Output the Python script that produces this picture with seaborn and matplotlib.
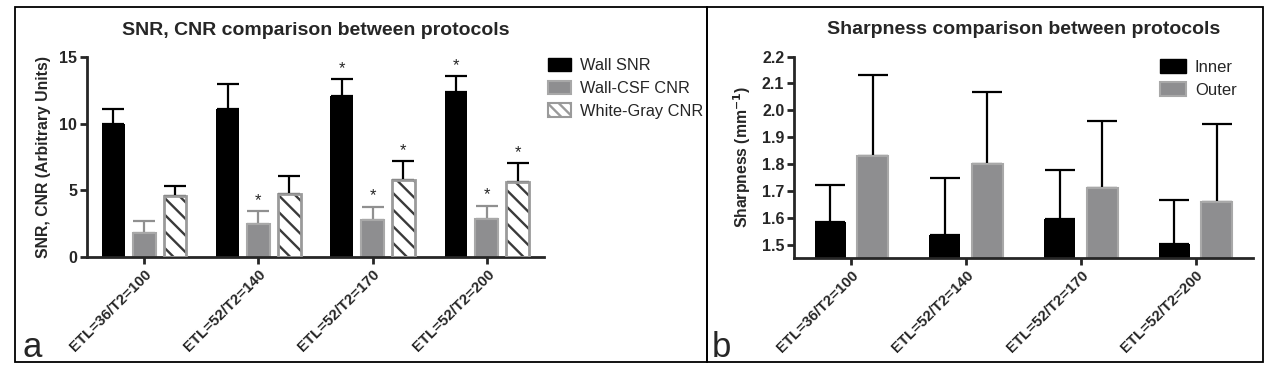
import numpy as np
import pandas as pd
import seaborn as sns
import matplotlib.pyplot as plt
from matplotlib.patches import Patch, Rectangle

# ---- data ----
protocols = ['ETL=36/T2=100', 'ETL=52/T2=140', 'ETL=52/T2=170', 'ETL=52/T2=200']

# panel a: SNR / CNR (mean and upward SD)
wall_snr = [10.0, 11.1, 12.05, 12.4]
wall_snr_sd = [1.1, 1.85, 1.3, 1.15]
wall_csf_cnr = [1.77, 2.45, 2.78, 2.86]
wall_csf_cnr_sd = [0.9, 1.0, 1.0, 1.0]
white_gray_cnr = [4.55, 4.75, 5.78, 5.65]
white_gray_cnr_sd = [0.8, 1.35, 1.4, 1.38]
sig_snr = [False, False, True, True]
sig_csf = [False, True, True, True]
sig_wg = [False, False, True, True]

# panel b: sharpness (mean and upward SD)
inner = [1.585, 1.537, 1.595, 1.503]
inner_sd = [0.137, 0.21, 0.182, 0.162]
outer = [1.831, 1.80, 1.712, 1.658]
outer_sd = [0.30, 0.268, 0.248, 0.291]

snr_series = ['Wall SNR', 'Wall-CSF CNR', 'White-Gray CNR']
sharp_series = ['Inner', 'Outer']

df_a = pd.DataFrame({
    'Protocol': protocols * 3,
    'Series': np.repeat(snr_series, 4),
    'Value': wall_snr + wall_csf_cnr + white_gray_cnr,
})
df_b = pd.DataFrame({
    'Protocol': protocols * 2,
    'Series': np.repeat(sharp_series, 4),
    'Value': inner + outer,
})

sns.set_style('ticks')
plt.rcParams['font.family'] = ['Liberation Sans', 'DejaVu Sans']
plt.rcParams['hatch.linewidth'] = 1.7

GRAY = '#8e8e90'
GRAY_EDGE = '#a8a8a8'

fig = plt.figure(figsize=(12.64, 3.88), dpi=100)
ax_a = fig.add_axes([0.0688, 0.3376, 0.3616, 0.5155])
ax_b = fig.add_axes([0.6282, 0.335, 0.3631, 0.519])

# panel frames
fig.add_artist(Rectangle((15 / 1264, 1 - 362 / 388), (707 - 15) / 1264, (362 - 7) / 388,
                         transform=fig.transFigure, fill=False, lw=1.3, ec='black'))
fig.add_artist(Rectangle((707 / 1264, 1 - 362 / 388), (1263 - 707) / 1264, (362 - 7) / 388,
                         transform=fig.transFigure, fill=False, lw=1.3, ec='black'))


def style_axes(ax):
    sns.despine(ax=ax)
    for s in ['left', 'bottom']:
        ax.spines[s].set_linewidth(2.0)
    ax.tick_params(axis='both', width=2.0, length=5, labelsize=11.5, pad=2)
    for lab in ax.get_yticklabels():
        lab.set_fontweight('bold')
    ax.set_xticks(range(len(protocols)))
    ax.set_xticklabels(protocols, rotation=45, ha='right', rotation_mode='anchor',
                       fontweight='bold', fontsize=10.8)
    ax.set_xlim(-0.5, 3.5)
    ax.set_xlabel('')


def add_err(ax, container, sd, color, capsize):
    xs = [p.get_x() + p.get_width() / 2 for p in container.patches]
    ys = [p.get_height() for p in container.patches]
    ax.errorbar(xs, ys, yerr=[np.zeros(len(sd)), sd], fmt='none', ecolor=color,
                elinewidth=1.6, capsize=capsize, capthick=1.6, zorder=1)
    return xs


# ---- panel a ----
sns.barplot(data=df_a, x='Protocol', y='Value', hue='Series',
            palette=['black', GRAY, 'white'], width=0.81, gap=0.26,
            errorbar=None, saturation=1, legend=False, ax=ax_a, zorder=2)
c_snr, c_csf, c_wg = ax_a.containers[:3]
for p in c_snr.patches:
    p.set_edgecolor('black')
    p.set_linewidth(0)
for p in c_csf.patches:
    p.set_edgecolor(GRAY_EDGE)
    p.set_linewidth(1.5)
for p in c_wg.patches:
    p.set_facecolor('white')
    p.set_edgecolor('#3a3a3a')
    p.set_hatch('\\\\')
    p.set_linewidth(0)
    ax_a.add_patch(Rectangle(p.get_xy(), p.get_width(), p.get_height(), fill=False,
                             ec='#9a9a9a', lw=2.0, zorder=3))

for cont, sd, col, sig in [(c_snr, wall_snr_sd, 'black', sig_snr),
                           (c_csf, wall_csf_cnr_sd, '#909090', sig_csf),
                           (c_wg, white_gray_cnr_sd, 'black', sig_wg)]:
    xs = add_err(ax_a, cont, sd, col, 8)
    tops = [p.get_height() + s for p, s in zip(cont.patches, sd)]
    for x, t, flag in zip(xs, tops, sig):
        if flag:
            ax_a.annotate('*', (x, t), xytext=(0, 4.5), textcoords='offset points',
                          ha='center', va='baseline', fontsize=12)

ax_a.set_ylim(0, 15)
ax_a.set_yticks([0, 5, 10, 15])
style_axes(ax_a)
ax_a.set_ylabel('SNR, CNR (Arbitrary Units)', fontweight='bold', fontsize=11.3, labelpad=6)
ax_a.set_title('SNR, CNR comparison between protocols', fontweight='bold', fontsize=14, pad=16)

leg_a = [Patch(fc='black', ec='black'),
         Patch(fc=GRAY, ec=GRAY_EDGE, lw=1.5),
         Patch(fc='white', ec='#9a9a9a', hatch='\\\\\\', lw=1.5)]
fig.legend(leg_a, snr_series, loc='upper left', bbox_to_anchor=(533 / 1264, 1 - 43 / 388),
           frameon=False, fontsize=11.8, handlelength=1.4, handleheight=0.9,
           labelspacing=0.45, handletextpad=0.55)

# ---- panel b ----
sns.barplot(data=df_b, x='Protocol', y='Value', hue='Series',
            palette=['black', GRAY], width=0.74, gap=0.27,
            errorbar=None, saturation=1, legend=False, ax=ax_b, zorder=2)
c_in, c_out = ax_b.containers[:2]
for p in c_in.patches:
    p.set_edgecolor('black')
    p.set_linewidth(0)
for p in c_out.patches:
    p.set_edgecolor(GRAY_EDGE)
    p.set_linewidth(1.5)
add_err(ax_b, c_in, inner_sd, 'black', 11)
add_err(ax_b, c_out, outer_sd, 'black', 11)

ax_b.set_ylim(1.45, 2.2)
ax_b.set_yticks(np.round(np.arange(1.5, 2.21, 0.1), 1))
ax_b.set_yticklabels([f'{v:.1f}' for v in np.arange(1.5, 2.21, 0.1)])
style_axes(ax_b)
ax_b.set_ylabel('Sharpness (mm$^{\\mathbf{-1}}$)', fontweight='bold', fontsize=11.3, labelpad=6)
ax_b.set_title('Sharpness comparison between protocols', fontweight='bold', fontsize=14, pad=16)

leg_b = [Patch(fc='black', ec='black'), Patch(fc=GRAY, ec=GRAY_EDGE, lw=1.5)]
fig.legend(leg_b, sharp_series, loc='upper left', bbox_to_anchor=(1145 / 1264, 1 - 44 / 388),
           frameon=False, fontsize=12, handlelength=1.55, handleheight=0.9,
           labelspacing=0.45, handletextpad=0.55)

# panel letters
fig.text(22 / 1264, 1 - 357 / 388, 'a', fontsize=25, ha='left', va='baseline')
fig.text(712 / 1264, 1 - 357 / 388, 'b', fontsize=25, ha='left', va='baseline')

fig.savefig('out.png', dpi=100)
